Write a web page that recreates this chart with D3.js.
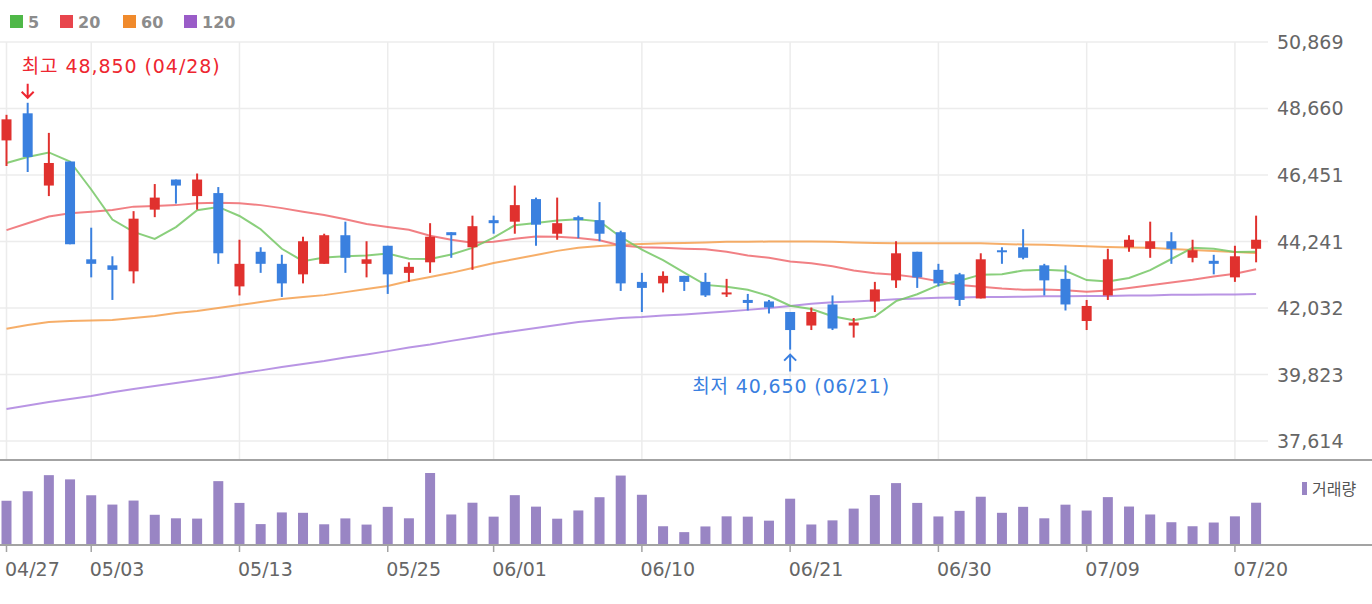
<!DOCTYPE html>
<html>
  <head>
    <meta charset="utf-8" />
    <title>Candles</title>
    <style type="text/css">
      html, body {
        margin: 0;
        padding: 0;
        background: #fff;
      }
      svg text {
        font-family: "DejaVu Sans", "Noto Sans CJK KR", sans-serif;
      }
      .grid line {
        stroke: #ececec;
        stroke-width: 1.5;
      }
      .axis-label {
        fill: #666;
        font-size: 19px;
      }
      .legend-label {
        fill: #8c8c8c;
        font-size: 16px;
        font-weight: bold;
      }
      .ma {
        fill: none;
        stroke-width: 2;
        stroke-opacity: 0.85;
      }
      .frame {
        stroke: #a3a3a3;
        stroke-width: 2;
      }
    </style>
  </head>
  <body>
    <svg id="chart" width="1372" height="604" viewBox="0 0 1372 604"></svg>

    <script type="text/javascript" src="https://cdn.jsdelivr.net/npm/d3@7/dist/d3.min.js"></script>
    <script type="text/javascript">

    var dates = ['04/27','04/28','04/29','04/30','05/03','05/04','05/06','05/07','05/10','05/11',
                 '05/12','05/13','05/14','05/17','05/18','05/20','05/21','05/24','05/25','05/26',
                 '05/27','05/28','05/31','06/01','06/02','06/03','06/04','06/07','06/08','06/09',
                 '06/10','06/11','06/14','06/15','06/16','06/17','06/18','06/21','06/22','06/23',
                 '06/24','06/25','06/28','06/29','06/30','07/01','07/02','07/05','07/06','07/07',
                 '07/08','07/09','07/12','07/13','07/14','07/15','07/16','07/19','07/20','07/21'];

    var tickDates = ['04/27','05/03','05/13','05/25','06/01','06/10','06/21','06/30','07/09','07/20'];

    var priceTicks = [37614, 39823, 42032, 44241, 46451, 48660, 50869];

    var open = [47600,48500,46100,46900,43650,43450,43250,45300,46300,45750,
                45850,42750,43900,43500,43150,43500,44450,43500,44100,43200,
                43550,44550,44050,44950,44900,45650,44500,45050,44950,44550,
                42900,42850,43100,42900,42500,42300,42250,41900,41450,42150,
                41450,42250,42950,43900,43300,43150,42350,43950,44050,43450,
                43000,41600,42450,44050,44000,44250,43700,43600,43050,44000];

    var high = [48450,48850,47850,46900,44700,43750,45250,46150,46300,46500,
                46050,44300,44050,43800,44400,44500,44900,44250,44100,43550,
                44850,44550,45100,45100,46100,45700,45700,45100,45550,44600,
                43200,43250,43100,43200,43000,42500,42300,41900,42050,42450,
                41700,42900,44250,43900,43500,43200,43850,44050,44650,43500,
                43450,42300,44000,44450,44900,44550,44300,43800,44100,45100];

    var low = [46750,46550,45750,44150,43050,42300,42850,45050,45500,45300,
               43500,42450,43200,42400,42850,43500,43200,43050,42500,42900,
               43200,43700,43300,44500,44500,44100,44300,44350,44250,42600,
               41900,42550,42600,42400,42400,41950,41850,40650,41300,41300,
               41050,41900,42700,42700,42750,42100,42350,43500,43650,42450,
               41950,41300,42300,43900,43700,43500,43550,43150,42900,43550];

    var close = [48300,47050,46850,44150,43500,43300,45000,45700,46100,46300,
                 43850,43500,43500,42850,44250,44450,43700,43650,43150,43400,
                 44400,44450,44750,44850,45450,44800,44850,44950,44500,42850,
                 42700,43100,42900,42450,42550,42200,42050,41300,41900,41350,
                 41550,42650,43850,43050,42850,42300,43650,43900,43700,42950,
                 42150,42100,43650,44300,44250,44000,43950,43500,43750,44300];

    var volume = [441000,538000,702000,659000,497000,402000,443000,298000,262000,259000,
                  641000,419000,203000,322000,318000,201000,261000,198000,379000,262000,
                  724000,301000,421000,279000,498000,381000,258000,342000,477000,698000,
                  502000,181000,121000,179000,282000,279000,238000,462000,199000,241000,
                  361000,499000,621000,419000,281000,338000,482000,318000,379000,262000,
                  401000,341000,478000,382000,301000,222000,181000,219000,282000,421000];

    var ma5 = [46850,47050,47200,46900,45970,44970,44560,44330,44720,45280,
               45390,45090,44650,44000,43590,43710,43750,43780,43840,43670,
               43660,43810,44030,44370,44780,44860,44940,44980,44910,44390,
               43970,43620,43210,42800,42740,42640,42430,42110,42000,41760,
               41630,41750,42260,42490,42790,42940,43140,43150,43280,43300,
               43270,42960,42910,43030,43290,43660,44030,44000,43890,43900];

    var ma20 = [44620,44850,45070,45180,45230,45290,45400,45420,45450,45510,
                45530,45510,45450,45350,45230,45120,44980,44820,44720,44630,
                44430,44300,44200,44230,44330,44410,44400,44360,44280,44110,
                44050,44030,44000,43980,43900,43780,43700,43580,43520,43420,
                43280,43190,43140,43050,42920,42800,42740,42680,42640,42650,
                42620,42570,42610,42700,42790,42880,42970,43080,43170,43320];

    var ma60 = [41340,41470,41570,41600,41620,41630,41700,41770,41870,41930,
                42030,42130,42230,42330,42400,42460,42560,42660,42760,42930,
                43060,43200,43360,43530,43660,43790,43930,44030,44090,44130,
                44160,44180,44190,44210,44230,44230,44240,44240,44240,44230,
                44210,44190,44180,44180,44180,44180,44180,44160,44140,44130,
                44110,44080,44060,44040,44030,43990,43960,43930,43890,43860];

    var ma120 = [38680,38790,38910,39010,39110,39230,39340,39440,39540,39640,
                 39740,39860,39960,40070,40170,40270,40390,40490,40600,40720,
                 40820,40940,41050,41170,41270,41370,41470,41570,41630,41700,
                 41730,41780,41820,41870,41920,41970,42030,42100,42170,42220,
                 42250,42280,42320,42350,42370,42380,42400,42400,42410,42420,
                 42420,42430,42430,42450,42450,42470,42470,42480,42480,42500];

    var maSeries = [
      { name: '5',   values: ma5,   line: '#76c765', swatch: '#4fb848' },
      { name: '20',  values: ma20,  line: '#ef6a6e', swatch: '#e8454c' },
      { name: '60',  values: ma60,  line: '#f5a04f', swatch: '#f08a2c' },
      { name: '120', values: ma120, line: '#ad82df', swatch: '#9a5cc8' }
    ];

    var UP = '#e0312e', DOWN = '#3a80df', VOL = '#9985c4';

    var svg = d3.select('#chart');
    svg.append('rect').attr('width', 1372).attr('height', 604).attr('fill', '#fff');

    var x = d3.scalePoint().domain(dates).range([6.5, 1256.1]);
    var y = d3.scaleLinear().domain([37614, 50869]).range([441, 42]);
    var yv = d3.scaleLinear().domain([0, d3.max(volume)]).range([544, 473]);

    // grid
    var grid = svg.append('g').attr('class', 'grid');
    grid.selectAll('.h').data(priceTicks).enter().append('line')
        .attr('x1', 0).attr('x2', 1268)
        .attr('y1', function(d) { return y(d); })
        .attr('y2', function(d) { return y(d); });
    grid.selectAll('.v').data(tickDates).enter().append('line')
        .attr('x1', function(d) { return x(d); })
        .attr('x2', function(d) { return x(d); })
        .attr('y1', y(50869)).attr('y2', 459);

    // price axis (right)
    svg.selectAll('.plabel').data(priceTicks).enter().append('text')
       .attr('class', 'axis-label')
       .attr('x', 1277)
       .attr('y', function(d) { return y(d) + 7; })
       .text(function(d) { return d3.format(',')(d); });

    // legend
    var lg = svg.append('g');
    var lx = [10, 60, 123, 184];
    maSeries.forEach(function(s, i) {
      lg.append('rect').attr('x', lx[i]).attr('y', 15).attr('width', 13).attr('height', 13)
        .attr('fill', s.swatch);
      lg.append('text').attr('class', 'legend-label')
        .attr('x', lx[i] + 18).attr('y', 28).text(s.name);
    });

    // moving averages
    var line = d3.line()
                 .x(function(d, i) { return x(dates[i]); })
                 .y(function(d) { return y(d); });

    svg.selectAll('.ma').data(maSeries.slice().reverse()).enter().append('path')
       .attr('class', 'ma')
       .attr('stroke', function(d) { return d.line; })
       .attr('d', function(d) { return line(d.values); });

    // candles
    var candles = svg.selectAll('.candle').data(dates).enter().append('g')
                     .attr('class', 'candle');

    function col(i) { return close[i] >= open[i] ? UP : DOWN; }

    candles.append('line')
           .attr('x1', function(d) { return x(d); })
           .attr('x2', function(d) { return x(d); })
           .attr('y1', function(d, i) { return y(high[i]); })
           .attr('y2', function(d, i) { return y(low[i]); })
           .attr('stroke', function(d, i) { return col(i); })
           .attr('stroke-width', 2);

    candles.append('rect')
           .attr('x', function(d) { return x(d) - 5; })
           .attr('width', 10)
           .attr('y', function(d, i) { return y(Math.max(open[i], close[i])); })
           .attr('height', function(d, i) {
              return Math.max(2, Math.abs(y(open[i]) - y(close[i])));
           })
           .attr('fill', function(d, i) { return col(i); });

    // high / low notes
    var hi = d3.maxIndex(high), lo = d3.minIndex(low);

    svg.append('text')
       .attr('x', x(dates[hi]) - 6).attr('y', 73)
       .attr('fill', '#ee2630').attr('font-size', 19)
       .attr('textLength', 198).attr('lengthAdjust', 'spacing')
       .text('최고 ' + d3.format(',')(high[hi]) + ' (' + dates[hi] + ')');
    svg.append('path')
       .attr('d', 'M' + x(dates[hi]) + ',' + (y(high[hi]) - 19) + 'V' + (y(high[hi]) - 5) +
                  'M' + (x(dates[hi]) - 6) + ',' + (y(high[hi]) - 11) +
                  'L' + x(dates[hi]) + ',' + (y(high[hi]) - 5) +
                  'L' + (x(dates[hi]) + 6) + ',' + (y(high[hi]) - 11))
       .attr('fill', 'none').attr('stroke', '#ee2630').attr('stroke-width', 2);

    svg.append('text')
       .attr('x', x(dates[lo]) - 98).attr('y', 393)
       .attr('fill', '#3a7fe0').attr('font-size', 19)
       .attr('textLength', 197).attr('lengthAdjust', 'spacing')
       .text('최저 ' + d3.format(',')(low[lo]) + ' (' + dates[lo] + ')');
    svg.append('path')
       .attr('d', 'M' + x(dates[lo]) + ',' + (y(low[lo]) + 22) + 'V' + (y(low[lo]) + 5) +
                  'M' + (x(dates[lo]) - 6) + ',' + (y(low[lo]) + 11) +
                  'L' + x(dates[lo]) + ',' + (y(low[lo]) + 5) +
                  'L' + (x(dates[lo]) + 6) + ',' + (y(low[lo]) + 11))
       .attr('fill', 'none').attr('stroke', '#3a7fe0').attr('stroke-width', 2);

    // panel divider
    svg.append('line').attr('class', 'frame')
       .attr('x1', 0).attr('x2', 1372).attr('y1', 460).attr('y2', 460);

    // volume
    svg.selectAll('.vol').data(volume).enter().append('rect')
       .attr('x', function(d, i) { return x(dates[i]) - 5; })
       .attr('width', 10)
       .attr('y', function(d) { return yv(d); })
       .attr('height', function(d) { return yv(0) - yv(d); })
       .attr('fill', VOL);

    svg.append('rect').attr('x', 1302).attr('y', 482).attr('width', 5).attr('height', 13)
       .attr('fill', VOL);
    svg.append('text').attr('x', 1312).attr('y', 495)
       .attr('font-size', 16).attr('fill', '#555')
       .style('font-family', '"Noto Sans CJK KR", sans-serif')
       .text('거래량');

    svg.append('line').attr('class', 'frame')
       .attr('x1', 0).attr('x2', 1372).attr('y1', 545).attr('y2', 545);

    // date axis
    svg.selectAll('.tick').data(tickDates).enter().append('line')
       .attr('x1', function(d) { return x(d); })
       .attr('x2', function(d) { return x(d); })
       .attr('y1', 545).attr('y2', 552)
       .attr('stroke', '#a3a3a3').attr('stroke-width', 1.5);

    svg.selectAll('.dlabel').data(tickDates).enter().append('text')
       .attr('class', 'axis-label')
       .attr('x', function(d) { return x(d) - 1.5; })
       .attr('y', 576)
       .text(function(d) { return d; });

    </script>
  </body>
</html>
